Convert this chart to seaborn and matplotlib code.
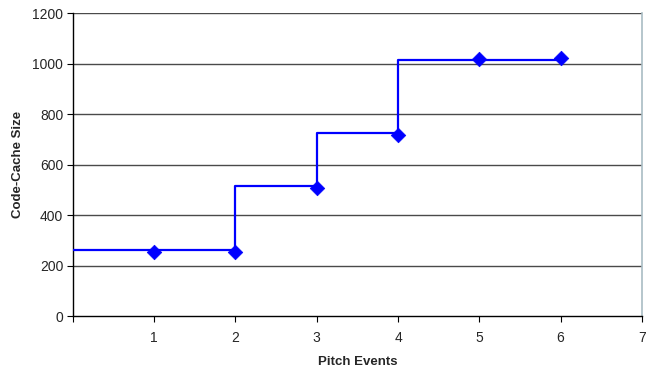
import numpy as np
import pandas as pd
import matplotlib
matplotlib.use('Agg')
import matplotlib.pyplot as plt
import seaborn as sns

# data
events = [1, 2, 3, 4, 5, 6]
cache_size = [255, 255, 507, 719, 1018, 1023]

# step line (level held until next pitch event)
step_x = [0, 2, 3, 4, 6]
step_y = [261, 516, 724, 1016, 1016]

x_ticks = [0, 1, 2, 3, 4, 5, 6, 7]
x_tick_labels = ['', '1', '2', '3', '4', '5', '6', '7']
y_ticks = [0, 200, 400, 600, 800, 1000, 1200]

sns.set_style('white')
plt.rcParams['font.family'] = ['Liberation Sans', 'DejaVu Sans']

fig = plt.figure(figsize=(6.57, 3.74), dpi=100)
ax = fig.add_axes([0.111, 0.155, 0.866, 0.81])

for y in y_ticks[1:]:
    ax.axhline(y, color='#4a4a4a', lw=1.0, zorder=1)

steps = pd.DataFrame({'x': step_x, 'y': step_y})
sns.lineplot(data=steps, x='x', y='y', ax=ax, color='#0000FF', lw=1.6,
             drawstyle='steps-post', zorder=3)

pts = pd.DataFrame({'event': events, 'size': cache_size})
sns.scatterplot(data=pts, x='event', y='size', ax=ax, marker='D', s=55,
                color='#0000FF', edgecolor='#0000FF', linewidth=0.5, zorder=4)

ax.set_xlim(0, 7)
ax.set_ylim(0, 1200)
ax.set_xticks(x_ticks)
ax.set_xticklabels(x_tick_labels)
ax.set_yticks(y_ticks)
ax.tick_params(axis='both', direction='out', length=4, width=0.8, color='black',
               labelsize=10, pad=3, bottom=True, left=True)
ax.tick_params(axis='x', pad=7)

for side in ['left', 'bottom']:
    ax.spines[side].set_color('black')
    ax.spines[side].set_linewidth(1.0)
ax.spines['top'].set_visible(False)
ax.spines['right'].set_color('#a9bcc4')
ax.spines['right'].set_linewidth(1.2)

ax.set_xlabel('Pitch Events', fontsize=9.5, fontweight='bold', labelpad=8)
ax.set_ylabel('Code-Cache Size', fontsize=9.5, fontweight='bold', labelpad=6)

fig.savefig('out.png', dpi=100)
